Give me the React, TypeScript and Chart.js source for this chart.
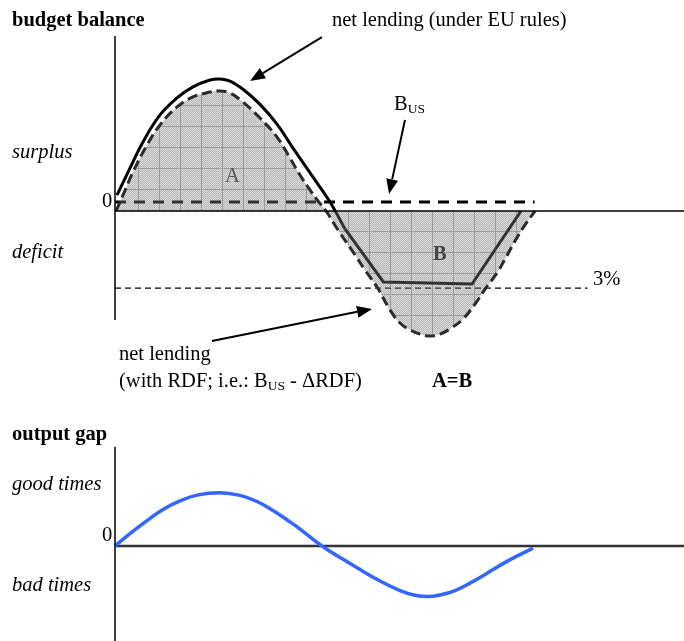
import React, { useEffect, useRef } from "react";
import { Chart, registerables } from "chart.js";

Chart.register(...registerables);

const FONT = '"Liberation Serif", "Times New Roman", serif';

// x: position in the cycle (0..100 = one full cycle), y: % of GDP
const X_MAX = 135.6;

// net lending with RDF (dashed curve, shaded to zero)
const rdfX = [0.24, 1.91, 4.29, 7.63, 10.72, 14.78, 18.59, 22.64, 25.02, 27.41, 30.51, 34.56, 38.61, 41.71, 44.09, 46.47, 48.38, 50.29, 53.15, 57.2, 59.58, 62.44, 65.54, 67.92, 70.31, 72.69, 75.07, 77.45, 79.84, 82.94, 85.8, 88.18, 91.04, 92.95, 95.33, 97.71, 100.1];
const rdfY = [0, 0.62, 1.52, 2.57, 3.35, 4.05, 4.44, 4.63, 4.67, 4.59, 4.24, 3.62, 2.88, 2.06, 1.4, 0.82, 0.39, 0, -0.74, -1.71, -2.3, -2.96, -3.85, -4.36, -4.63, -4.79, -4.87, -4.79, -4.59, -4.2, -3.62, -3.04, -2.41, -1.87, -1.17, -0.54, 0];

// net lending under EU rules (solid), smooth upper part
const euUpX = [0.48, 3.57, 6.67, 10.73, 14.78, 18.59, 22.64, 25.02, 27.41, 30.51, 34.56, 38.61, 42.42, 47.19, 51.24, 54.81];
const euUpY = [0.62, 1.67, 2.69, 3.74, 4.4, 4.83, 5.1, 5.14, 5.06, 4.74, 4.15, 3.38, 2.45, 1.32, 0.35, -0.7];
// ... and its lower part, capped near the 3% limit
const euLoX = [54.81, 63.96, 85.08, 96.76];
const euLoY = [-0.7, -2.76, -2.84, 0];

// B_US (underlying structural balance)
const busX = [0, 100];
const busY = [0.35, 0.35];

// 3% deficit limit
const limX = [0, 112.6];
const limY = [-3, -3];

// top panel axes
const topZeroX = [0, X_MAX];
const topZeroY = [0, 0];
const topAxisX = [0, 0];
const topAxisY = [6.81, -4.24];

// output gap
const gapX = [0, 3.57, 7.63, 11.44, 15.49, 19.54, 25.02, 29.79, 33.84, 37.65, 41.71, 44.09, 49.33, 53.62, 58.39, 63.16, 67.92, 71.5, 74.36, 77.45, 81.03, 84.6, 88.66, 93.42, 99.62];
const gapY = [0, 0.47, 0.96, 1.38, 1.7, 1.92, 2.01, 1.91, 1.68, 1.34, 0.91, 0.64, 0, -0.43, -0.89, -1.32, -1.68, -1.86, -1.91, -1.85, -1.68, -1.4, -1.03, -0.58, -0.08];

const botZeroX = [0, X_MAX];
const botZeroY = [0, 0];
const botAxisX = [0, 0];
const botAxisY = [3.75, -3.6];

// annotation arrows (data coordinates: [x, y] tail -> head)
const arrowEU = [[49.3, 6.77], [32.2, 5.06]];
const arrowBUS = [[69.1, 3.54], [65.3, 0.66]];
const arrowRDF = [[23.1, -5.06], [61.25, -3.81]];

const pts = (xs: number[], ys: number[]) => xs.map((x, i) => ({ x, y: ys[i] }));

function makePattern(): CanvasPattern | string {
  const tile = document.createElement("canvas");
  tile.width = 42;
  tile.height = 42;
  const c = tile.getContext("2d");
  if (!c) return "rgba(120,120,120,0.45)";
  const img = c.createImageData(42, 42);
  for (let y = 0; y < 42; y++) {
    for (let x = 0; x < 42; x++) {
      const i = (y * 42 + x) * 4;
      let v: number, a: number;
      if (x % 21 === 12 || y % 21 === 0) {
        v = 90; a = 0.6;
      } else if ((x + y) % 2 === 0) {
        v = 140; a = 0.3;
      } else {
        v = 110; a = 0.5;
      }
      img.data[i] = v;
      img.data[i + 1] = v;
      img.data[i + 2] = v;
      img.data[i + 3] = Math.round(a * 255);
    }
  }
  c.putImageData(img, 0, 0);
  return c.createPattern(tile, "repeat") || "rgba(120,120,120,0.45)";
}

const arrowPlugin = (arrows: number[][][]) => ({
  id: "arrows",
  afterDatasetsDraw(chart: any) {
    const { ctx, scales } = chart;
    const sx = scales.x;
    const sy = scales.y;
    ctx.save();
    arrows.forEach(([from, to]) => {
      const x1 = sx.getPixelForValue(from[0]);
      const y1 = sy.getPixelForValue(from[1]);
      const x2 = sx.getPixelForValue(to[0]);
      const y2 = sy.getPixelForValue(to[1]);
      const ang = Math.atan2(y2 - y1, x2 - x1);
      const len = 15;
      const hw = 6;
      const bx = x2 - len * Math.cos(ang);
      const by = y2 - len * Math.sin(ang);
      ctx.strokeStyle = "#000";
      ctx.fillStyle = "#000";
      ctx.lineWidth = 2;
      ctx.setLineDash([]);
      ctx.beginPath();
      ctx.moveTo(x1, y1);
      ctx.lineTo(bx, by);
      ctx.stroke();
      ctx.beginPath();
      ctx.moveTo(x2, y2);
      ctx.lineTo(bx + hw * Math.sin(ang), by - hw * Math.cos(ang));
      ctx.lineTo(bx - hw * Math.sin(ang), by + hw * Math.cos(ang));
      ctx.closePath();
      ctx.fill();
    });
    ctx.restore();
  },
});

const lineBase = {
  pointRadius: 0,
  pointHoverRadius: 0,
  clip: false as const,
  fill: false,
  tension: 0,
};

function Label(props: { x: number; base: number; children: React.ReactNode; bold?: boolean; italic?: boolean; color?: string }) {
  return (
    <div
      style={{
        position: "absolute",
        left: props.x,
        top: props.base - 17.2,
        fontFamily: FONT,
        fontSize: 20.5,
        lineHeight: "20.5px",
        fontWeight: props.bold ? "bold" : "normal",
        fontStyle: props.italic ? "italic" : "normal",
        color: props.color || "#000",
        whiteSpace: "nowrap",
      }}
    >
      {props.children}
    </div>
  );
}

const Sub = ({ children }: { children: React.ReactNode }) => (
  <span style={{ fontSize: 13.5, position: "relative", top: 3 }}>{children}</span>
);

export default function App() {
  const topRef = useRef<HTMLCanvasElement>(null);
  const botRef = useRef<HTMLCanvasElement>(null);

  useEffect(() => {
    if (!topRef.current || !botRef.current) return;
    const pattern = makePattern();

    const top = new Chart(topRef.current, {
      type: "line",
      data: {
        datasets: [
          { ...lineBase, label: "y axis", data: pts(topAxisX, topAxisY), borderColor: "#000", borderWidth: 1.5, order: 0 },
          { ...lineBase, label: "zero", data: pts(topZeroX, topZeroY), borderColor: "#000", borderWidth: 1.3, order: 1 },
          {
            ...lineBase,
            label: "net lending (with RDF)",
            data: pts(rdfX, rdfY),
            borderColor: "#2b2b2b",
            borderWidth: 3,
            borderDash: [10, 5],
            fill: "origin",
            backgroundColor: pattern as any,
            tension: 0.4,
            order: 5,
          },
          {
            ...lineBase,
            label: "net lending (EU rules)",
            data: pts(euUpX, euUpY),
            borderColor: "#000",
            borderWidth: 3,
            tension: 0.4,
            order: 7,
          },
          {
            ...lineBase,
            label: "net lending (EU rules, capped)",
            data: pts(euLoX, euLoY),
            borderColor: "#000",
            borderWidth: 3,
            order: 8,
          },
          {
            ...lineBase,
            label: "B_US",
            data: pts(busX, busY),
            borderColor: "#000",
            borderWidth: 3,
            borderDash: [11, 8],
            order: 9,
          },
          {
            ...lineBase,
            label: "3%",
            data: pts(limX, limY),
            borderColor: "#000",
            borderWidth: 1.3,
            borderDash: [6, 4],
            order: 10,
          },
        ] as any,
      },
      options: {
        animation: false,
        responsive: false,
        devicePixelRatio: 1,
        events: [],
        layout: { padding: { left: 115, right: 0, top: 30, bottom: 80 } },
        scales: {
          x: { type: "linear", min: 0, max: X_MAX, display: false },
          y: { type: "linear", min: -5.021, max: 7.046, display: false },
        },
        plugins: { legend: { display: false }, tooltip: { enabled: false } },
      },
      plugins: [arrowPlugin([arrowEU, arrowBUS, arrowRDF])],
    });

    const bot = new Chart(botRef.current, {
      type: "line",
      data: {
        datasets: [
          { ...lineBase, label: "y axis", data: pts(botAxisX, botAxisY), borderColor: "#000", borderWidth: 1.5, order: 0 },
          {
            ...lineBase,
            label: "output gap",
            data: pts(gapX, gapY),
            borderColor: "#3366ff",
            borderWidth: 3.5,
            tension: 0.4,
            order: 1,
          },
          { ...lineBase, label: "zero", data: pts(botZeroX, botZeroY), borderColor: "#333", borderWidth: 2.5, order: 2 },
        ] as any,
      },
      options: {
        animation: false,
        responsive: false,
        devicePixelRatio: 1,
        events: [],
        layout: { padding: { left: 115, right: 0, top: 27, bottom: 0 } },
        scales: {
          x: { type: "linear", min: 0, max: X_MAX, display: false },
          y: { type: "linear", min: -3.585, max: 3.736, display: false },
        },
        plugins: { legend: { display: false }, tooltip: { enabled: false } },
      },
    });

    return () => {
      top.destroy();
      bot.destroy();
    };
  }, []);

  return (
    <div
      style={{
        position: "fixed",
        left: 0,
        top: 0,
        width: 684,
        height: 641,
        background: "#fff",
        overflow: "hidden",
      }}
    >
      <canvas ref={topRef} width={684} height={420} style={{ position: "absolute", left: 0, top: 0, width: 684, height: 420 }} />
      <canvas ref={botRef} width={684} height={221} style={{ position: "absolute", left: 0, top: 420, width: 684, height: 221 }} />

      <Label x={12} base={26} bold>budget balance</Label>
      <Label x={332} base={26}>net lending (under EU rules)</Label>
      <Label x={394} base={110}>
        B<Sub>US</Sub>
      </Label>
      <Label x={12} base={158} italic>surplus</Label>
      <Label x={102} base={207}>0</Label>
      <Label x={12} base={258} italic>deficit</Label>
      <Label x={225} base={182} color="#555">A</Label>
      <Label x={433} base={260} bold color="#444">B</Label>
      <Label x={593} base={285}>3%</Label>
      <Label x={119} base={360}>net lending</Label>
      <Label x={119} base={387}>
        (with RDF; i.e.: B<Sub>US</Sub> - ΔRDF)
      </Label>
      <Label x={432} base={387} bold>A=B</Label>

      <Label x={12} base={440} bold>output gap</Label>
      <Label x={12} base={490} italic>good times</Label>
      <Label x={102} base={541}>0</Label>
      <Label x={12} base={591} italic>bad times</Label>
    </div>
  );
}
